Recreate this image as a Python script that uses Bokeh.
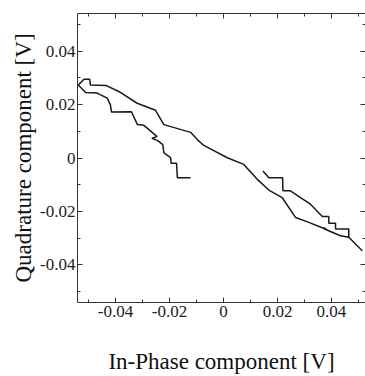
from bokeh.plotting import figure
from bokeh.models import (Range1d, LinearAxis, FixedTicker, CustomJSTickFormatter)
from bokeh.embed import file_html
from bokeh.resources import INLINE

# Main trajectory (bottom-right end -> lower-right branch -> origin -> upper-left -> loop -> lower-left stepped end)
main_x = [0.0514, 0.0464, 0.0433, 0.0396, 0.0367, 0.0381, 0.0363, 0.0316, 0.0267, 0.0217,
          0.0168, 0.0125, 0.0075, 0.0014, -0.0073, -0.0097, -0.0122, -0.0221, -0.0246,
          -0.0252, -0.0320, -0.0388, -0.0434, -0.0493, -0.0496, -0.0517, -0.0538, -0.0511,
          -0.0468, -0.0431, -0.0419, -0.0415, -0.0341, -0.0319, -0.0296, -0.0246, -0.0265,
          -0.0244, -0.0225, -0.0221, -0.0196, -0.0194, -0.0174, -0.0171, -0.0122]
main_y = [-0.0347, -0.0297, -0.0291, -0.0275, -0.0262, -0.0265, -0.0260, -0.0241, -0.0223,
          -0.0148, -0.0120, -0.0080, -0.0024, 0.0001, 0.0047, 0.0069, 0.0096, 0.0125, 0.0168,
          0.0179, 0.0205, 0.0249, 0.0271, 0.0273, 0.0295, 0.0295, 0.0273, 0.0245, 0.0243,
          0.0224, 0.0199, 0.0172, 0.0173, 0.0125, 0.0123, 0.0080, 0.0074, 0.0065, 0.0050,
          0.0019, 0.0001, -0.0020, -0.0020, -0.0074, -0.0074]

# Right stepped branch
branch_x = [0.0146, 0.0168, 0.0219, 0.0220, 0.0248, 0.0285, 0.0322, 0.0366, 0.0390, 0.0390,
            0.0415, 0.0415, 0.0464, 0.0464]
branch_y = [-0.0049, -0.0074, -0.0074, -0.0123, -0.0123, -0.0148, -0.0173, -0.0219, -0.0219,
            -0.0244, -0.0244, -0.0266, -0.0266, -0.0297]

major_ticks = [-0.04, -0.02, 0.0, 0.02, 0.04]
minor_ticks = [-0.05, -0.03, -0.01, 0.01, 0.03, 0.05]
x_label = "In-Phase component [V]"
y_label = "Quadrature component [V]"

FONT = "Liberation Serif"
LINE = "#1a1a1a"

p = figure(width=365, height=376, output_backend="svg", toolbar_location=None,
           x_range=Range1d(-0.0541, 0.0526), y_range=Range1d(-0.0541, 0.0541),
           min_border_left=77, min_border_right=0, min_border_top=13, min_border_bottom=72,
           background_fill_color="white", border_fill_color="white")
p.outline_line_color = None
p.xgrid.visible = False
p.ygrid.visible = False

fmt = CustomJSTickFormatter(code="return Math.abs(tick) < 1e-9 ? '0' : tick.toFixed(2);")
blank = CustomJSTickFormatter(code="return '';")

def style(ax, labels=True):
    ax.ticker = FixedTicker(ticks=major_ticks, minor_ticks=minor_ticks)
    ax.major_tick_in = 5
    ax.major_tick_out = 0
    ax.minor_tick_in = 3
    ax.minor_tick_out = 0
    ax.major_tick_line_color = "#333333"
    ax.minor_tick_line_color = "#333333"
    ax.axis_line_color = "#333333"
    ax.axis_line_width = 1
    if labels:
        ax.formatter = fmt
        ax.major_label_text_font = FONT
        ax.major_label_text_font_size = "17px"
        ax.major_label_text_color = "#222222"
        ax.major_label_text_line_height = 1.0
        ax.axis_label_text_font = FONT
        ax.axis_label_text_font_size = "23px"
        ax.axis_label_text_font_style = "normal"
        ax.axis_label_text_color = "#111111"
        ax.axis_label_text_line_height = 1.0
    else:
        ax.formatter = blank
        ax.major_label_standoff = 0
        ax.axis_label = None

xa = p.xaxis[0]
ya = p.yaxis[0]
style(xa)
style(ya)
xa.axis_label = x_label
ya.axis_label = y_label
xa.major_label_standoff = 3
xa.axis_label_standoff = 29
ya.major_label_standoff = 2
ya.axis_label_standoff = 1

top = LinearAxis()
style(top, labels=False)
p.add_layout(top, "above")
right = LinearAxis()
style(right, labels=False)
right.axis_line_color = None
p.add_layout(right, "right")

p.line(main_x, main_y, line_color=LINE, line_width=1.5)
p.line(branch_x, branch_y, line_color=LINE, line_width=1.5)

open("out.html", "w").write(file_html(p, INLINE))
